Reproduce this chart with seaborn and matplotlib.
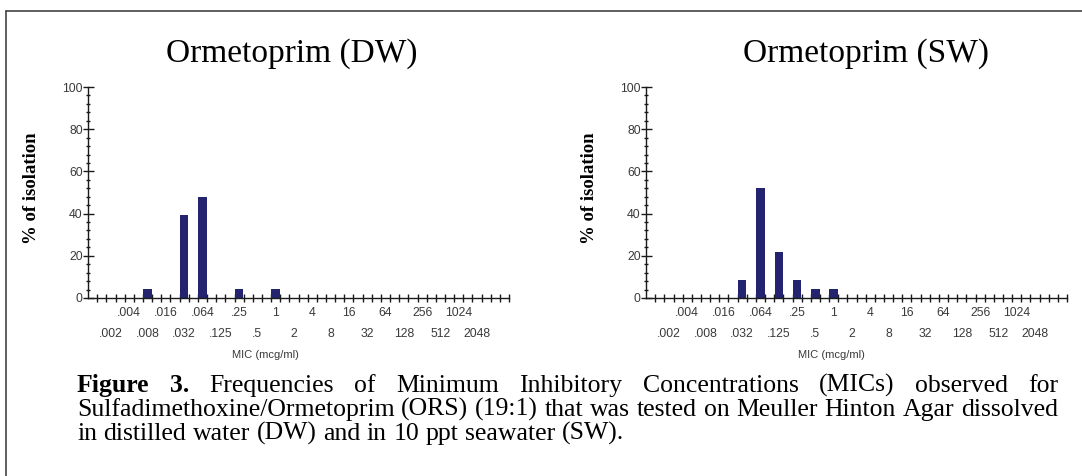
import numpy as np
import pandas as pd
import matplotlib
matplotlib.use("Agg")
import matplotlib.pyplot as plt
import seaborn as sns
from matplotlib.lines import Line2D

# ---------------- data ----------------
mic_labels = ['.002', '.004', '.008', '.016', '.032', '.064', '.125', '.25', '.5',
              '1', '2', '4', '8', '16', '32', '64', '128', '256', '512', '1024', '2048']
dw_pct = [0, 0, 4.35, 0, 39.1, 47.8, 0, 4.35, 0, 4.35, 0,
          0, 0, 0, 0, 0, 0, 0, 0, 0, 0]
sw_pct = [0, 0, 0, 0, 8.7, 52.2, 21.7, 8.7, 4.35, 4.35, 0,
          0, 0, 0, 0, 0, 0, 0, 0, 0, 0]
titles = ['Ormetoprim (DW)', 'Ormetoprim (SW)']
y_label = '% of isolation'
x_label = 'MIC (mcg/ml)'
y_ticks = [0, 20, 40, 60, 80, 100]
caption_bold = 'Figure 3.'
caption_lines = [
    'Frequencies of Minimum Inhibitory Concentrations (MICs) observed for',
    'Sulfadimethoxine/Ormetoprim (ORS) (19:1) that was tested on Meuller Hinton Agar dissolved',
    'in distilled water (DW) and in 10 ppt seawater (SW).',
]

# ---------------- style ----------------
sns.set_theme(style='white')
plt.rcParams['font.family'] = ['Liberation Sans', 'DejaVu Sans']
SERIF = ['Liberation Serif', 'DejaVu Serif']

W, H = 1082, 476
PT = 0.72  # points per pixel at 100 dpi
fig = plt.figure(figsize=(W / 100, H / 100), dpi=100)
fig.patch.set_facecolor('white')

def fx(px):
    return px / W

def fy(py):
    return 1 - py / H

bar_color = '#23236f'
axis_color = '#1a1a1a'
label_color = '#3a3a3a'

panels = [
    dict(data=dw_pct, title=titles[0], cat0=111.0, step=18.3, ylab_x=32, title_x=292, mic_x=265),
    dict(data=sw_pct, title=titles[1], cat0=669.0, step=18.3, ylab_x=589, title_x=866, mic_x=831),
]
axis_top, axis_zero = 87, 298
n = len(mic_labels)
xmin, xmax = -1.25, n + 0.75

for p in panels:
    x0 = p['cat0'] + xmin * p['step']
    width_px = (xmax - xmin) * p['step']
    ax = fig.add_axes([fx(x0), fy(axis_zero), width_px / W, (axis_zero - axis_top) / H])
    ax.set_facecolor('none')
    df = pd.DataFrame({'mic': mic_labels, 'pct': p['data']})
    sns.barplot(data=df, x='mic', y='pct', order=mic_labels, color=bar_color,
                width=0.46, saturation=1, linewidth=0, errorbar=None, ax=ax)
    ax.set_xlim(xmin, xmax)
    ax.set_ylim(0, 100)
    ax.set_xlabel('')
    ax.set_ylabel('')
    for s in ['top', 'right']:
        ax.spines[s].set_visible(False)
    for s in ['left', 'bottom']:
        ax.spines[s].set_color(axis_color)
        ax.spines[s].set_linewidth(1.0)

    ax.set_xticks(np.arange(xmin + 0.5, xmax + 0.01, 0.5))
    ax.set_xticklabels([])
    ax.tick_params(axis='x', which='major', direction='inout', length=8 * PT,
                   width=1.0, color=axis_color, labelbottom=False, bottom=True)
    ax.set_yticks(y_ticks)
    ax.set_yticks(np.arange(0, 101, 4), minor=True)
    ax.tick_params(axis='y', which='major', direction='inout', length=11 * PT,
                   width=1.0, color=axis_color, pad=0, labelsize=8.8,
                   labelcolor=label_color, left=True)
    ax.tick_params(axis='y', which='minor', direction='inout', length=5 * PT,
                   width=1.0, color=axis_color, left=True)

    trans = ax.get_xaxis_transform()
    for i, lab in enumerate(mic_labels):
        off = 15 if i % 2 else 36
        ax.annotate(lab, xy=(i, 0), xycoords=trans, xytext=(0, -off * PT),
                    textcoords='offset points', ha='center', va='center',
                    fontsize=8.8, color=label_color, annotation_clip=False)

    fig.text(fx(p['mic_x']), fy(355), x_label, ha='center', va='center',
             fontsize=8, color=label_color)
    fig.text(fx(p['ylab_x']), fy(188), y_label, ha='center', va='center',
             rotation=90, fontsize=13.5, fontweight='bold', family=SERIF, color='black')
    fig.text(fx(p['title_x']), fy(54), p['title'], ha='center', va='center',
             fontsize=24, family=SERIF, color='black')

# ---------------- frame ----------------
fig.add_artist(Line2D([fx(6), fx(W)], [fy(11), fy(11)], color='#444444', lw=1.2))
fig.add_artist(Line2D([fx(6), fx(6)], [fy(11), fy(H)], color='#444444', lw=1.2))

# ---------------- caption (justified) ----------------
renderer = fig.canvas.get_renderer()
cap_size = 18.5

def measure(s, **kw):
    t = fig.text(0, 0, s, fontsize=cap_size, family=SERIF, **kw)
    w = t.get_window_extent(renderer).width
    t.remove()
    return w

cap_left, cap_right = 77, 1058
baselines = [392, 416, 440]
for li, line in enumerate(caption_lines):
    words = [(w, 'normal') for w in line.split(' ')]
    if li == 0:
        words = [(w, 'bold') for w in caption_bold.split(' ')] + words
    widths = [measure(w, fontweight=fw) for w, fw in words]
    if li < len(caption_lines) - 1:
        gap = (cap_right - cap_left - sum(widths)) / (len(words) - 1)
    else:
        gap = measure('a b') - measure('ab')
    x = cap_left
    for (w, fw), ww in zip(words, widths):
        fig.text(fx(x), fy(baselines[li]), w, fontsize=cap_size, family=SERIF,
                 fontweight=fw, ha='left', va='baseline', color='black')
        x += ww + gap

fig.savefig('out.png', dpi=100, facecolor='white')
